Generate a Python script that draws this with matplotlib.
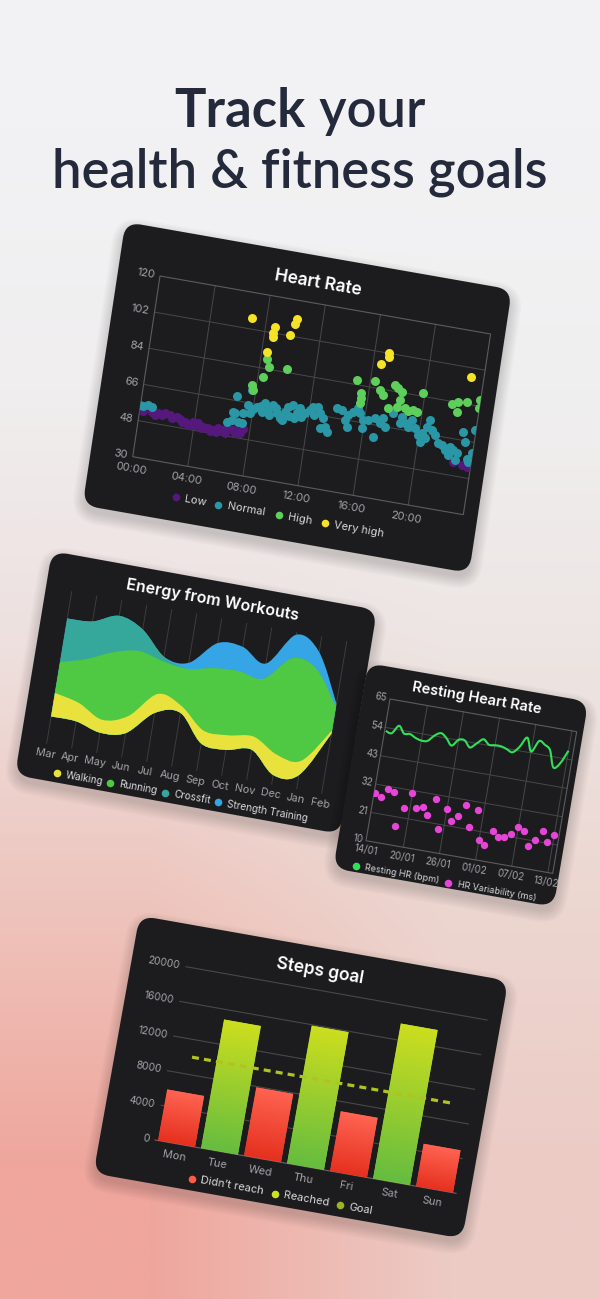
import numpy as np
import matplotlib
matplotlib.use("Agg")
import matplotlib.pyplot as plt
from matplotlib.transforms import Affine2D
from matplotlib.patches import FancyBboxPatch, Rectangle, PathPatch, Polygon
from matplotlib.path import Path

# ---------------- data ----------------
# heart rate: (hour of day, bpm)
hr_low = [(0.26, 53.2), (0.86, 53.4), (1.1, 52.2), (1.35, 53.2), (1.6, 52.6), (1.82, 54.1),
          (2.19, 53.4), (2.4, 52.0), (2.68, 53.1), (2.95, 52.1), (3.1, 50.8), (3.33, 51.4),
          (3.6, 50.1), (3.92, 52.2), (4.0, 50.4), (4.29, 51.8), (4.5, 49.6), (4.68, 50.6),
          (5.05, 50.2), (5.2, 49.2), (5.42, 49.8), (5.6, 48.8), (5.76, 51.1), (6.12, 50.6),
          (6.3, 49.4), (6.46, 51.9), (6.83, 51.5), (7.0, 50.3), (7.19, 51.6), (7.3, 50.8),
          (7.54, 52.7), (22.73, 54.9), (23.35, 54.0), (23.73, 53.5)]
hr_normal = [(0.0, 55.6), (0.2, 55.5), (0.56, 56.4), (0.81, 55.9), (6.27, 55.0), (6.61, 56.2),
             (6.77, 59.7), (7.1, 56.0), (7.35, 55.5), (6.64, 60.4), (6.7, 68.3), (7.36, 60.8),
             (7.63, 65.0), (7.7, 72.5), (7.84, 61.0), (8.0, 63.5), (8.24, 64.9), (8.5, 65.5),
             (8.64, 62.8), (8.79, 67.2), (9.09, 64.2), (9.2, 62.0), (9.4, 67.0), (9.6, 65.8),
             (9.72, 63.3), (10.0, 61.2), (10.15, 60.5), (10.29, 64.8), (10.47, 67.5), (10.6, 63.2),
             (10.81, 68.8), (11.0, 62.4), (11.13, 65.0), (11.32, 67.7), (11.5, 63.8), (11.72, 65.7),
             (12.04, 67.8), (12.24, 69.7), (12.4, 65.5), (12.6, 70.1), (12.78, 67.0), (13.02, 64.8),
             (13.28, 61.0), (13.45, 58.6), (12.95, 59.7), (13.9, 70.9), (14.28, 70.5), (14.62, 65.9),
             (14.81, 62.8), (14.8, 68.6), (15.12, 70.6), (15.39, 73.0), (15.61, 70.4), (15.92, 67.4),
             (15.89, 63.3), (16.27, 67.9), (16.81, 60.2), (16.73, 69.2), (17.13, 67.2), (17.31, 69.9),
             (17.52, 66.1), (17.97, 73.2), (18.54, 69.0), (18.59, 72.3), (18.9, 69.4), (19.17, 68.1),
             (19.34, 71.6), (19.66, 67.8), (19.97, 64.8), (20.16, 61.8), (20.19, 65.9), (20.47, 63.8),
             (20.47, 69.6), (20.63, 73.1), (20.85, 68.4), (21.15, 66.2), (21.47, 62.5), (21.73, 62.0),
             (22.02, 59.8), (22.3, 57.7), (22.33, 61.9), (22.6, 60.5), (22.83, 55.8), (22.87, 59.2),
             (23.11, 70.3), (23.34, 65.6), (23.65, 57.1), (23.78, 56.2), (23.93, 60.5), (23.9, 72.1)]
hr_high = [(7.64, 75.0), (7.82, 72.6), (8.38, 80.0), (8.42, 89.0), (8.68, 85.0), (9.95, 85.7),
           (15.07, 86.3), (15.5, 80.2), (15.5, 77.8), (15.5, 75.4), (16.32, 87.5), (16.78, 83.4),
           (17.06, 81.2), (17.56, 75.2), (17.78, 87.0), (18.06, 85.8), (18.32, 84.5), (18.3, 80.3),
           (18.13, 76.7), (18.74, 76.7), (19.0, 75.5), (19.35, 76.6), (19.6, 76.0), (19.83, 85.4),
           (22.0, 82.7), (22.44, 84.4), (23.03, 85.1), (22.43, 79.4), (23.95, 87.0), (23.95, 83.0)]
hr_very_high = [(6.93, 107.6), (8.67, 105.0), (8.63, 101.9), (8.66, 100.2), (8.4, 92.4), (9.82, 102.5),
                (10.06, 108.2), (10.12, 111.0), (16.6, 96.2), (17.04, 102.0), (17.04, 100.4), (23.07, 97.3)]
hr_hour_ticks = [0, 4, 8, 12, 16, 20]
hr_hour_labels = ["00:00", "04:00", "08:00", "12:00", "16:00", "20:00"]
hr_bpm_ticks = [30, 48, 66, 84, 102, 120]

# energy from workouts (streamgraph, arbitrary units)
months = ["Mar", "Apr", "May", "Jun", "Jul", "Aug", "Sep", "Oct", "Nov", "Dec", "Jan", "Feb"]
stream_base = [17.7, 17.5, 13.0, 15.7, 32.0, 35.0, 17.8, 16.6, 19.7, 6.0, 9.0, 39.3]
walking = [15.5, 12.0, 8.5, 11.3, 12.5, 4.5, 8.6, 9.6, 8.6, 13.5, 9.4, 2.1]
running = [20.4, 29.0, 44.5, 42.8, 21.5, 24.5, 41.1, 42.3, 38.2, 63.5, 60.6, 15.6]
crossfit = [28.7, 24.8, 24.0, 14.2, 3.0, 0, 0, 0, 0, 0, 0, 0]
strength = [0, 0, 0, 0, 0, 4.0, 16.5, 16.0, 10.0, 15.5, 11.0, 2.0]

# resting heart rate, one value per day from 14/01
rest_days = list(range(31))
rest_hr = [52.7, 52.2, 55.5, 52.9, 53.1, 52.0, 51.4, 51.7, 54.2, 55.5, 53.9, 51.5, 54.2, 54.3, 52.0,
           54.0, 56.0, 54.3, 54.5, 54.5, 53.8, 53.0, 55.5, 59.5, 54.5, 59.0, 58.0, 56.3, 50.0, 52.0, 57.3]
rest_hrv = [28.6, 27.6, 30.9, 30.3, 17.5, 24.9, 30.9, 25.7, 26.5, 23.7, 30.2, 19.3, 27.3, 23.1, 25.4,
            30.0, 21.8, 29.0, 17.7, 16.2, 22.0, 20.2, 20.6, 22.0, 25.1, 24.2, 18.8, 21.4, 25.3, 21.3, 24.4]
rest_day_ticks = [0, 6, 12, 18, 24, 30]
rest_day_labels = ["14/01", "20/01", "26/01", "01/02", "07/02", "13/02"]
rest_ticks = [10, 21, 32, 43, 54, 65]

# steps goal
weekdays = ["Mon", "Tue", "Wed", "Thu", "Fri", "Sat", "Sun"]
steps = [5900, 14850, 7900, 15900, 6900, 17900, 4900]
steps_goal = [10000, 10000, 10000, 10000, 10000, 10000, 10000]
steps_ticks = [0, 4000, 8000, 12000, 16000, 20000]

# ---------------- style ----------------
CARD = "#1c1c1e"
GRID = "#48484a"
FRAME = "#5c5c5f"
TICK = "#a3a3a8"
LEG = "#d8d8da"
plt.rcParams["font.family"] = ["Inter", "DejaVu Sans"]

fig = plt.figure(figsize=(6, 12.99), dpi=100)
ax = fig.add_axes([0, 0, 1, 1])
ax.set_xlim(0, 600)
ax.set_ylim(1299, 0)
ax.axis("off")
ax.set_autoscale_on(False)

# background gradient (grey at top to salmon at bottom)
bg = np.array([
    [[242, 242, 244], [242, 242, 244]],
    [[240, 238, 239], [240, 239, 240]],
    [[237, 224, 222], [237, 229, 227]],
    [[238, 196, 188], [236, 214, 208]],
    [[239, 166, 156], [236, 203, 197]],
]) / 255
ax.imshow(bg, extent=(0, 600, 1299, 0), interpolation="bilinear", aspect="auto", zorder=0)


def card(o, u, v, box, xlim, ylim, z):
    """Tilted card: o = plot origin (px), u/v = plot x / y edges (px)."""
    lu, lv = np.hypot(*u), np.hypot(*v)
    m = Affine2D(np.array([[u[0] / lu, v[0] / lv, o[0]],
                           [u[1] / lu, v[1] / lv, o[1]],
                           [0, 0, 1]]))
    local = m + ax.transData
    frac = Affine2D().scale(lu, lv) + local
    data = (Affine2D().translate(-xlim[0], -ylim[0])
            .scale(lu / (xlim[1] - xlim[0]), lv / (ylim[1] - ylim[0])) + local)
    ang = np.degrees(np.arctan2(-u[1], u[0]))
    u0, u1, v0, v1 = box
    xy, w, h = (u0 * lu, v0 * lv), (u1 - u0) * lu, (v1 - v0) * lv
    shadow_tr = m + Affine2D().translate(0, 6) + ax.transData
    for k in range(8):
        ax.add_patch(FancyBboxPatch(xy, w, h, boxstyle=f"round,pad={k * 1.6},rounding_size={16 + k * 1.6}",
                                    transform=shadow_tr, fc="black", ec="none", alpha=0.02, zorder=z))
    ax.add_patch(FancyBboxPatch(xy, w, h, boxstyle="round,pad=0,rounding_size=16",
                                transform=local, fc=CARD, ec="none", zorder=z + 1))
    return dict(frac=frac, data=data, ang=ang, lu=lu, z=z)


def txt(c, x, y, s, **kw):
    kw.setdefault("zorder", c["z"] + 6)
    ax.text(x, y, s, transform=c["frac"], rotation=c["ang"], rotation_mode="anchor", **kw)


def legend(c, items, v, fs):
    for u, lab, col in items:
        ax.scatter([u], [v], s=30, color=col, linewidths=0, transform=c["frac"], zorder=c["z"] + 6)
        txt(c, u + 9 / c["lu"], v, lab, ha="left", va="center", color=LEG, fontsize=fs)


def smooth(xs, ys):
    p = np.column_stack([xs, ys]).astype(float)
    ext = np.vstack([p[0], p, p[-1]])
    verts, codes = [p[0]], [Path.MOVETO]
    for i in range(len(p) - 1):
        p0, p1, p2, p3 = ext[i], ext[i + 1], ext[i + 2], ext[i + 3]
        verts += [p1 + (p2 - p0) / 6, p2 - (p3 - p1) / 6, p2]
        codes += [Path.CURVE4] * 3
    return verts, codes


def clip_area(c):
    # a Polygon (not a Rectangle) so the clip follows the tilted frame
    return Polygon([(0, 0), (1, 0), (1, 1), (0, 1)], closed=True, transform=c["frac"])


# ---------------- Heart Rate ----------------
hc = card((132.7, 456.7), (330.6, 58), (27.3, -180.7), (-0.126, 1.043, -0.309, 1.259), (0, 24), (30, 120), 10)
for h in hr_hour_ticks[1:]:
    ax.plot([h, h], [30, 120], color=GRID, lw=0.7, transform=hc["data"], zorder=12)
for b in hr_bpm_ticks[1:-1]:
    ax.plot([0, 24], [b, b], color=GRID, lw=0.7, transform=hc["data"], zorder=12)
ax.add_patch(Rectangle((0, 30), 24, 90, fill=False, ec=FRAME, lw=0.8, transform=hc["data"], zorder=12))
for pts, col in [(hr_low, "#55187c"), (hr_normal, "#2a97a6"), (hr_high, "#5fcf5c"), (hr_very_high, "#f4e327")]:
    t, v = zip(*pts)
    sc = ax.scatter(t, v, s=42, color=col, linewidths=0, transform=hc["data"], zorder=13)
    sc.set_clip_path(clip_area(hc))
for h, lab in zip(hr_hour_ticks, hr_hour_labels):
    txt(hc, h / 24, -0.068, lab, ha="center", va="center", color=TICK, fontsize=8)
for b in hr_bpm_ticks:
    txt(hc, -0.016, (b - 30) / 90, str(b), ha="right", va="center", color=TICK, fontsize=8)
txt(hc, 0.47, 1.11, "Heart Rate", ha="center", va="center", color="white", fontsize=12.5, fontweight="semibold")
legend(hc, [(0.146, "Low", "#55187c"), (0.274, "Normal", "#2a97a6"),
            (0.457, "High", "#5fcf5c"), (0.597, "Very high", "#f4e327")], -0.178, 8)

# ---------------- Energy from Workouts ----------------
ec = card((46.7, 743.3), (275, 49.9), (25, -151.7), (-0.0935, 1.0886, -0.2397, 1.2368), (0, 11), (0, 100), 20)
for m in range(len(months)):
    ax.plot([m, m], [0, 100], color="#3c3c3e", lw=0.7, transform=ec["data"], zorder=22)
xm = np.arange(len(months))
base = np.array(stream_base)
top_walk = base + np.array(walking)
top_run = top_walk + np.array(running)
top_cross = top_run + np.array(crossfit)
top_str = top_cross + np.array(strength)
for top, col in [(top_str, "#36a5e6"), (top_cross, "#35a89b"), (top_run, "#4fc843"), (top_walk, "#e9e23c")]:
    v1, c1 = smooth(xm, top)
    v2, c2 = smooth(xm[::-1], base[::-1])
    c2[0] = Path.LINETO
    ax.add_patch(PathPatch(Path(v1 + v2 + [v1[0]], c1 + c2 + [Path.CLOSEPOLY]),
                           fc=col, ec="none", transform=ec["data"], zorder=23))
for m, lab in enumerate(months):
    txt(ec, m / 11, -0.067, lab, ha="center", va="center", color=TICK, fontsize=7.8)
txt(ec, 0.503, 1.11, "Energy from Workouts", ha="center", va="center", color="white", fontsize=11.5,
    fontweight="semibold")
legend(ec, [(0.053, "Walking", "#e9e23c"), (0.247, "Running", "#4fc843"),
            (0.446, "Crossfit", "#35a89b"), (0.640, "Strength Training", "#36a5e6")], -0.179, 7.3)

# ---------------- Resting Heart Rate ----------------
rc = card((366, 840.7), (186.7, 32.7), (24, -141.7), (-0.146, 1.034, -0.228, 1.22), (-0.2, 30.8), (10, 65), 30)
for d in rest_day_ticks[1:]:
    ax.plot([d, d], [10, 65], color=GRID, lw=0.7, transform=rc["data"], zorder=32)
for r in rest_ticks[1:-1]:
    ax.plot([-0.2, 30.8], [r, r], color=GRID, lw=0.7, transform=rc["data"], zorder=32)
ax.add_patch(Rectangle((-0.2, 10), 31, 55, fill=False, ec=FRAME, lw=0.8, transform=rc["data"], zorder=32))
vl, cl = smooth(rest_days, rest_hr)
ax.add_patch(PathPatch(Path(vl, cl), fill=False, ec="#30e05a", lw=1.5, transform=rc["data"], zorder=33))
sc = ax.scatter(rest_days, rest_hrv, s=28, color="#e645d8", linewidths=0, transform=rc["data"], zorder=33)
sc.set_clip_path(clip_area(rc))
for d, lab in zip(rest_day_ticks, rest_day_labels):
    txt(rc, (d + 0.2) / 31, -0.068, lab, ha="center", va="center", color=TICK, fontsize=7)
for r in rest_ticks:
    txt(rc, -0.015, (r - 10) / 55, str(r), ha="right", va="center", color=TICK, fontsize=7)
txt(rc, 0.45, 1.11, "Resting Heart Rate", ha="center", va="center", color="white", fontsize=10.5,
    fontweight="semibold")
legend(rc, [(-0.03, "Resting HR (bpm)", "#30e05a"), (0.466, "HR Variability (ms)", "#e645d8")], -0.188, 6.5)

# ---------------- Steps goal ----------------
scard = card((155, 1140), (301, 53.3), (31, -173.3), (-0.179, 1.046, -0.247, 1.24), (0, 7), (0, 20000), 40)
for s in steps_ticks:
    ax.plot([0, 7], [s, s], color="#66666a" if s == 0 else GRID, lw=0.8, transform=scard["data"], zorder=42)
xs = np.arange(len(weekdays)) + 0.5
reached = [s >= g for s, g in zip(steps, steps_goal)]
bars = ax.bar(xs, steps, width=0.86, color=["#9ccd30" if r else "#f24a36" for r in reached],
              transform=scard["data"], zorder=43)
ramp = np.linspace(0, 1, 64)[:, None, None]
for b, r in zip(bars, reached):
    lo, hi = (np.array([0.40, 0.74, 0.25, 1.0]), np.array([0.80, 0.87, 0.12, 1.0])) if r else \
             (np.array([0.90, 0.19, 0.12, 1.0]), np.array([1.0, 0.39, 0.32, 1.0]))
    grad = lo + (hi - lo) * ramp
    im = ax.imshow(grad, extent=(b.get_x(), b.get_x() + b.get_width(), 0, b.get_height()), origin="lower",
                   transform=scard["data"], aspect="auto", interpolation="bilinear", zorder=44)
    im.set_clip_path(b.get_path(), b.get_transform())
ax.plot(xs, steps_goal, color="#b0c420", lw=2.3, ls=(0, (2.2, 1.6)), transform=scard["data"], zorder=45)
for x, lab in zip(xs, weekdays):
    txt(scard, x / 7, -0.07, lab, ha="center", va="center", color=TICK, fontsize=8)
for s in steps_ticks:
    txt(scard, -0.02, s / 20000, str(s), ha="right", va="center", color=TICK, fontsize=7.5)
txt(scard, 0.434, 1.105, "Steps goal", ha="center", va="center", color="white", fontsize=12.5,
    fontweight="semibold")
legend(scard, [(0.141, "Didn\u2019t reach", "#ff5a48"), (0.417, "Reached", "#cde022"),
               (0.633, "Goal", "#9fb322")], -0.181, 8)

# ---------------- headline ----------------
NAVY = "#242a3b"
r = fig.canvas.get_renderer()
l2 = ax.text(300, 187, "health & fitness goals", ha="center", va="baseline", color=NAVY,
             fontsize=36, family="Lato", fontweight="semibold", zorder=60)
w2 = l2.get_window_extent(r).width
fs = 36 * 496 / w2
l2.set_fontsize(fs)
t1 = ax.text(0, 127, "Track", ha="left", va="baseline", color=NAVY, fontsize=fs, family="Lato",
             fontweight="bold", zorder=60)
t2 = ax.text(0, 127, " your", ha="left", va="baseline", color=NAVY, fontsize=fs, family="Lato",
             fontweight="semibold", zorder=60)
wa = t1.get_window_extent(r).width
wb = t2.get_window_extent(r).width
x0 = 300 - (wa + wb) / 2
t1.set_x(x0)
t2.set_x(x0 + wa)

fig.savefig("out.png", dpi=100)
